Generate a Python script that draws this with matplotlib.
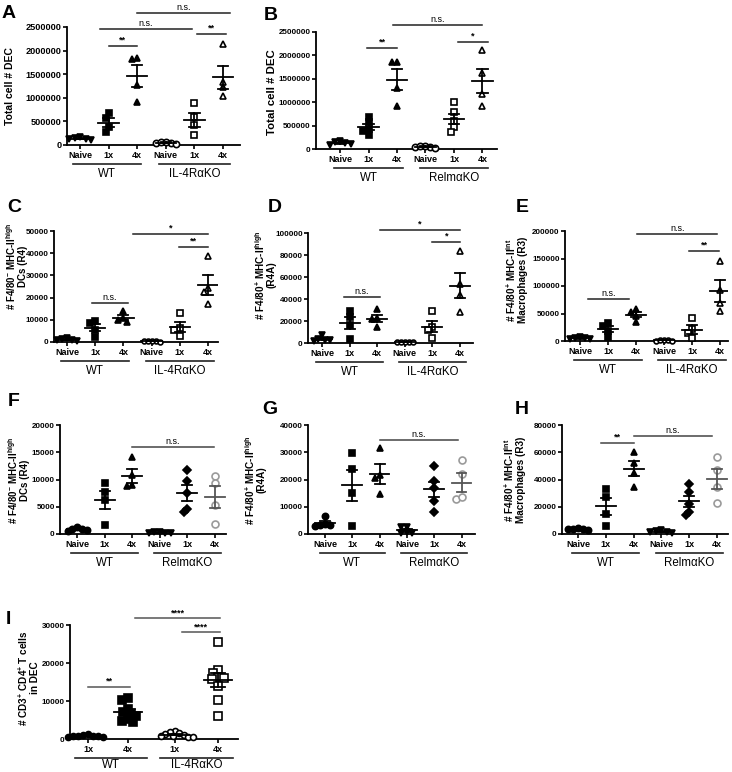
import numpy as np
import matplotlib
matplotlib.use('Agg')
import matplotlib.pyplot as plt
import matplotlib.transforms as mtrans

plt.rcParams['font.family'] = ['Liberation Sans', 'DejaVu Sans']
plt.rcParams['mathtext.fontset'] = 'custom'
plt.rcParams['mathtext.rm'] = 'Liberation Sans'
plt.rcParams['mathtext.bf'] = 'Liberation Sans:bold'
plt.rcParams['mathtext.it'] = 'Liberation Sans:italic'

# ---- data ----
cats6 = ['Naive', '1x', '4x', 'Naive', '1x', '4x']
cats4 = ['1x', '4x', '1x', '4x']
grp_il4 = ['WT', 'IL-4RαKO']
grp_relm = ['WT', 'RelmαKO']

# A: total cells, IL-4RaKO
a_wt_naive = [150000, 120000, 130000, 160000, 100000]
a_wt_1x = [669000, 563000, 387000, 282000]
a_wt_4x = [1830000, 1840000, 1270000, 910000]
a_ko_naive = [40000, 50000, 60000, 30000, 70000]
a_ko_1x = [880000, 600000, 420000, 210000]
a_ko_4x = [2150000, 1340000, 1220000, 1040000]

# B: total cells, RelmaKO
b_wt_naive = [170000, 140000, 120000, 100000, 80000]
b_wt_1x = [690000, 570000, 420000, 380000, 300000]
b_wt_4x = [1860000, 1850000, 1310000, 910000]
b_ko_naive = [50000, 70000, 40000, 60000, 30000]
b_ko_1x = [1010000, 780000, 590000, 470000, 370000]
b_ko_4x = [2110000, 1620000, 1170000, 910000]

# C: DCs (R4), IL-4RaKO
c_wt_naive = [1800, 1200, 900, 600, 1000]
c_wt_1x = [9500, 8500, 5500, 2200]
c_wt_4x = [13800, 11000, 10000, 9000]
c_ko_naive = [300, 200, 400, 250, 350]
c_ko_1x = [13000, 6500, 5500, 2500]
c_ko_4x = [38700, 24500, 22600, 17300]

# D: R4A, IL-4RaKO
d_wt_naive = [7000, 4000, 3000, 2500, 2000]
d_wt_1x = [29500, 24000, 16000, 3500]
d_wt_4x = [30500, 22500, 21500, 14500]
d_ko_naive = [800, 500, 1200, 600, 900]
d_ko_1x = [29500, 14500, 11500, 4500]
d_ko_4x = [83500, 53500, 44000, 28000]

# E: macrophages (R3), IL-4RaKO
e_wt_naive = [6000, 5000, 4000, 7000, 3000]
e_wt_1x = [32000, 28000, 18000, 8000]
e_wt_4x = [58000, 53000, 46000, 35000]
e_ko_naive = [1500, 1000, 800, 1200, 500]
e_ko_1x = [42000, 21000, 15000, 5000]
e_ko_4x = [146000, 92000, 69000, 55000]

# F: DCs (R4), RelmaKO
f_wt_naive = [700, 1000, 1300, 600, 900]
f_wt_1x = [9300, 7700, 6200, 1700]
f_wt_4x = [14200, 10800, 8800, 8900]
f_ko_naive = [300, 200, 400, 100, 250]
f_ko_1x = [11700, 9800, 7600, 4600, 4100]
f_ko_4x = [10600, 9300, 5300, 1800]

# G: R4A, RelmaKO
g_wt_naive = [6500, 3800, 3300, 3000, 3200]
g_wt_1x = [29600, 23800, 15000, 3000]
g_wt_4x = [31500, 21500, 20500, 14500]
g_ko_naive = [2700, 2600, 600, 300, 400]
g_ko_1x = [25000, 19500, 17000, 12000, 8200]
g_ko_4x = [27000, 22000, 12800, 13500]

# H: macrophages (R3), RelmaKO
h_wt_naive = [4000, 3500, 3800, 3200, 4200]
h_wt_1x = [33000, 27000, 15000, 6000]
h_wt_4x = [60000, 52000, 45000, 34500]
h_ko_naive = [2500, 1500, 3000, 800, 1200]
h_ko_1x = [36500, 31000, 22000, 16000, 14000]
h_ko_4x = [56300, 47000, 34700, 23000]

# I: CD3+ CD4+ T cells
i_wt_1x = [1200, 1000, 900, 800, 700, 600, 500, 900]
i_wt_4x = [10700, 10300, 8000, 7200, 6600, 6000, 5200, 4800, 4400]
i_ko_1x = [2000, 1900, 1600, 1300, 1000, 800, 600, 500, 700]
i_ko_4x = [25500, 18100, 17500, 16200, 16000, 15800, 14000, 10200, 6000]

# significance bars: (x1, x2, y, text)
a_sig = [(2.0, 3.0, 2100000, '**'), (1.7, 4.9, 2460000, 'n.s.'),
         (5.1, 6.1, 2350000, '**'), (3.0, 6.25, 2800000, 'n.s.')]
b_sig = [(1.95, 3.0, 2160000, '**'), (2.86, 6.0, 2650000, 'n.s.'),
         (5.14, 6.19, 2290000, '*')]
c_sig = [(1.9, 3.15, 17500, 'n.s.'), (3.34, 6.0, 48600, '*'),
         (4.97, 6.0, 42800, '**')]
d_sig = [(1.8, 3.1, 41800, 'n.s.'), (3.1, 6.0, 102700, '*'),
         (5.0, 6.0, 91800, '*')]
e_sig = [(1.3, 2.75, 76400, 'n.s.'), (3.04, 5.9, 194500, 'n.s.'),
         (4.9, 5.96, 163600, '**')]
f_sig = [(3.0, 5.95, 16000, 'n.s.')]
g_sig = [(3.0, 5.87, 34500, 'n.s.')]
h_sig = [(1.83, 3.0, 66800, '**'), (3.0, 5.82, 71900, 'n.s.')]
i_sig = [(1.0, 2.05, 13700, '**'), (2.18, 4.3, 31800, '****'),
         (3.35, 4.3, 28100, '****')]

W, H = 732, 772
fig = plt.figure(figsize=(W / 100, H / 100), dpi=100)

BLACK = 'black'
GREY = '#9a9a9a'


def swarm(vals, ypx, d=5.0):
    # simple beeswarm in pixel units
    vals = np.asarray(vals, float)
    order = np.argsort(-vals)
    cand = [0.0]
    for s in np.arange(0.5, 40, 0.5):
        cand += [-s, s]
    placed = []
    offs = np.zeros(len(vals))
    for i in order:
        y = vals[i] * ypx
        for x in cand:
            if all((x - px) ** 2 + (y - py) ** 2 >= d * d for px, py in placed):
                break
        placed.append((x, y))
        offs[i] = x
    return offs


def make_panel(rect, tick1, sp, pos, groups, ymax, ystep, cats, grouplabels,
               sig, ylabel, lab_xy, ylab_size=7.2, ytick_size=5.8,
               xtick_size=6.5, grp_lines=None, line_col='#222222',
               grp_y=(19, 29)):
    x0, y0, x1, y1 = rect
    ax = fig.add_axes([x0 / W, 1 - y1 / H, (x1 - x0) / W, (y1 - y0) / H])
    hpx = y1 - y0
    ax.set_xlim(1 - (tick1 - x0) / sp, 1 + (x1 - tick1) / sp)
    ax.set_ylim(0, ymax)
    ypx = hpx / ymax
    for p, (vals, mk, fc, ec, ms) in zip(pos, groups):
        vals = np.asarray(vals, float)
        offs = swarm(vals, ypx, d=ms * 1.1) / sp
        ax.plot(p + offs, vals, linestyle='none', marker=mk, ms=ms,
                mfc=fc, mec=ec, mew=1.2, clip_on=False, zorder=3)
        m = vals.mean()
        se = vals.std(ddof=1) / np.sqrt(len(vals))
        lc = '#555555' if ec == GREY else BLACK
        ax.plot([p - 0.36, p + 0.36], [m, m], color=lc, lw=1.3, zorder=4)
        ax.plot([p, p], [m - se, m + se], color=lc, lw=1.3, zorder=4)
        for yy in (m - se, m + se):
            ax.plot([p - 0.18, p + 0.18], [yy, yy], color=lc, lw=1.3, zorder=4)
    for s in ('top', 'right'):
        ax.spines[s].set_visible(False)
    for s in ('left', 'bottom'):
        ax.spines[s].set_linewidth(1.3)
    ax.set_yticks(np.arange(0, ymax + 1, ystep))
    ax.set_yticklabels(['%d' % v for v in np.arange(0, ymax + 1, ystep)],
                       fontsize=ytick_size, fontweight='bold')
    ax.set_xticks(pos)
    ax.set_xticklabels(cats, fontsize=xtick_size, fontweight='bold')
    ax.tick_params(length=3, width=1.2, pad=1.5)
    ax.tick_params(axis='y', pad=0.8)
    fig.text(lab_xy[0] / W, 1 - lab_xy[1] / H, ylabel, rotation=90,
             ha='center', va='center', multialignment='center',
             fontsize=ylab_size, fontweight='bold', linespacing=1.0)
    # significance
    for xa, xb, yv, txt in sig:
        ax.plot([xa, xb], [yv, yv], color=line_col, lw=1.1, clip_on=False)
        ax.annotate(txt, ((xa + xb) / 2, yv), xytext=(0, 0.8),
                    textcoords='offset points', ha='center', va='bottom',
                    fontsize=6.5,
                    fontweight='normal' if txt == 'n.s.' else 'bold',
                    annotation_clip=False)
    # group labels under axis
    trans = mtrans.blended_transform_factory(ax.transData, ax.transAxes)
    if grp_lines is None:
        grp_lines = [(0.8, 3.2), (3.8, 6.2)]
    for (xa, xb), g in zip(grp_lines, grouplabels):
        ly = -grp_y[0] / hpx
        ax.plot([xa, xb], [ly, ly], transform=trans, color='#222222', lw=1.2,
                clip_on=False)
        ax.text((xa + xb) / 2, -grp_y[1] / hpx, g, transform=trans,
                ha='center', va='center', fontsize=8.3)
    return ax


pos6 = [1, 2, 3, 4, 5, 6]

A_groups = [(a_wt_naive, 'v', BLACK, BLACK, 5), (a_wt_1x, 's', BLACK, BLACK, 5),
            (a_wt_4x, '^', BLACK, BLACK, 5), (a_ko_naive, 'o', 'white', BLACK, 4.5),
            (a_ko_1x, 's', 'white', BLACK, 5), (a_ko_4x, '^', 'white', BLACK, 5)]
B_groups = [(b_wt_naive, 'v', BLACK, BLACK, 5), (b_wt_1x, 's', BLACK, BLACK, 5),
            (b_wt_4x, '^', BLACK, BLACK, 5), (b_ko_naive, 'o', 'white', BLACK, 4.5),
            (b_ko_1x, 's', 'white', BLACK, 5), (b_ko_4x, '^', 'white', BLACK, 5)]


def il4_groups(n, o, f, kn, k1, k4):
    return [(n, 'v', BLACK, BLACK, 4.5), (o, 's', BLACK, BLACK, 5),
            (f, '^', BLACK, BLACK, 5), (kn, 'o', 'white', BLACK, 3.5),
            (k1, 's', 'white', BLACK, 5), (k4, '^', 'white', BLACK, 5)]


def relm_groups(n, o, f, kn, k1, k4):
    return [(n, 'o', BLACK, BLACK, 4.5), (o, 's', BLACK, BLACK, 5),
            (f, '^', BLACK, BLACK, 5), (kn, 'v', BLACK, BLACK, 5),
            (k1, 'D', BLACK, BLACK, 3.8), (k4, 'o', 'white', GREY, 5)]


make_panel((67, 27, 240, 145), 80, 28.6, pos6, A_groups, 2500000, 500000,
           cats6, grp_il4, a_sig, 'Total cell # DEC', (10, 86),
           ylab_size=7.5, ytick_size=6.6, grp_lines=[(0.75, 3.15), (3.75, 6.25)])
make_panel((316, 32, 497, 149), 340, 28.5, pos6, B_groups, 2500000, 500000,
           cats6, grp_relm, b_sig, 'Total cell # DEC', (272, 92),
           ylab_size=8.2, ytick_size=5.8)
make_panel((54, 231, 218, 342), 67, 28.2, pos6,
           il4_groups(c_wt_naive, c_wt_1x, c_wt_4x, c_ko_naive, c_ko_1x, c_ko_4x),
           50000, 10000, cats6, grp_il4, c_sig,
           '# F4/80$^{\\mathbf{-}}$ MHC-II$^{\\mathbf{high}}$\nDCs (R4)',
           (16, 266), ylab_size=7)
make_panel((308, 233, 473, 343), 322, 27.6, pos6,
           il4_groups(d_wt_naive, d_wt_1x, d_wt_4x, d_ko_naive, d_ko_1x, d_ko_4x),
           100000, 20000, cats6, grp_il4, d_sig,
           '# F4/80$^{\\mathbf{+}}$ MHC-II$^{\\mathbf{high}}$\n(R4A)',
           (265, 275))
make_panel((565, 231, 728, 341), 580, 28.0, pos6,
           il4_groups(e_wt_naive, e_wt_1x, e_wt_4x, e_ko_naive, e_ko_1x, e_ko_4x),
           200000, 50000, cats6, grp_il4, e_sig,
           '# F4/80$^{\\mathbf{+}}$ MHC-II$^{\\mathbf{int}}$\nMacrophages (R3)',
           (516, 280))
make_panel((60, 425, 226, 534), 77, 27.6, pos6,
           relm_groups(f_wt_naive, f_wt_1x, f_wt_4x, f_ko_naive, f_ko_1x, f_ko_4x),
           20000, 5000, cats6, grp_relm, f_sig,
           '# F4/80$^{\\mathbf{-}}$ MHC-II$^{\\mathbf{high}}$\nDCs (R4)',
           (18, 480), ylab_size=7, line_col='#444444')
make_panel((308, 425, 475, 534), 325, 27.3, pos6,
           relm_groups(g_wt_naive, g_wt_1x, g_wt_4x, g_ko_naive, g_ko_1x, g_ko_4x),
           40000, 10000, cats6, grp_relm, g_sig,
           '# F4/80$^{\\mathbf{+}}$ MHC-II$^{\\mathbf{high}}$\n(R4A)',
           (255, 480), line_col='#444444')
make_panel((562, 425, 728, 534), 578, 27.8, pos6,
           relm_groups(h_wt_naive, h_wt_1x, h_wt_4x, h_ko_naive, h_ko_1x, h_ko_4x),
           80000, 20000, cats6, grp_relm, h_sig,
           '# F4/80$^{\\mathbf{+}}$ MHC-II$^{\\mathbf{int}}$\nMacrophages (R3)',
           (514, 480), line_col='#444444')
I_groups = [(i_wt_1x, 'o', BLACK, BLACK, 4.3), (i_wt_4x, 's', BLACK, BLACK, 5.3),
            (i_ko_1x, 'o', 'white', BLACK, 4.3), (i_ko_4x, 's', 'white', BLACK, 5.3)]
make_panel((70, 625, 238, 739), 88, 40.0, [1, 2, 3.17, 4.25], I_groups,
           30000, 10000, cats4, grp_il4, i_sig,
           '# CD3$^{\\mathbf{+}}$ CD4$^{\\mathbf{+}}$ T cells\nin DEC',
           (28, 678), grp_lines=[(0.68, 2.48), (2.8, 4.63)],
           line_col='#555555', grp_y=(19, 26.5))

for txt, x, y in [('A', 9, 13), ('B', 271, 15), ('C', 14, 208), ('D', 275, 208),
                  ('E', 522, 208), ('F', 14, 402), ('G', 270, 410),
                  ('H', 522, 410), ('I', 8, 620)]:
    fig.text(x / W, 1 - y / H, txt, fontsize=14, fontweight='bold',
             ha='center', va='center')

fig.savefig('out.png', dpi=100)
